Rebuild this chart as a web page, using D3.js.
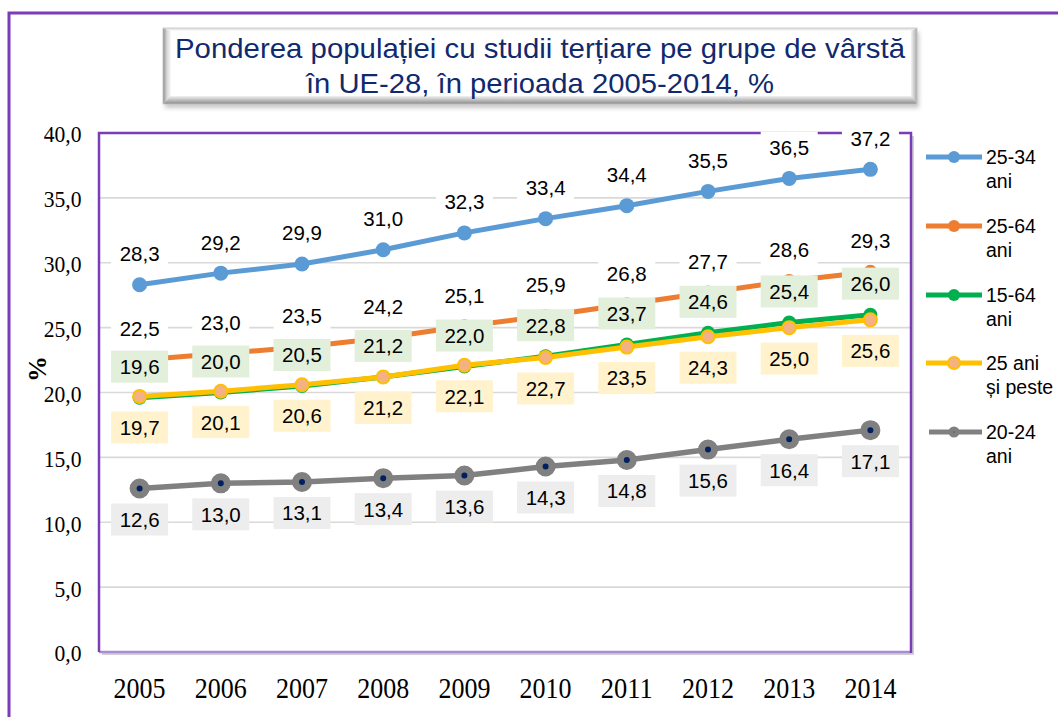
<!DOCTYPE html>
<html><head><meta charset="utf-8">
<script src="https://cdn.jsdelivr.net/npm/d3@7"></script>
<style>html,body{margin:0;padding:0;background:#fff;} svg{display:block;}</style>
</head><body><svg id="chart" width="1058" height="717"></svg>
<script>
// ---- data ----
const years = ["2005","2006","2007","2008","2009","2010","2011","2012","2013","2014"];
const v25_34 = [28.3, 29.2, 29.9, 31.0, 32.3, 33.4, 34.4, 35.5, 36.5, 37.2];
const v25_64 = [22.5, 23.0, 23.5, 24.2, 25.1, 25.9, 26.8, 27.7, 28.6, 29.3];
const v15_64 = [19.6, 20.0, 20.5, 21.2, 22.0, 22.8, 23.7, 24.6, 25.4, 26.0];
const v25plus = [19.7, 20.1, 20.6, 21.2, 22.1, 22.7, 23.5, 24.3, 25.0, 25.6];
const v20_24 = [12.6, 13.0, 13.1, 13.4, 13.6, 14.3, 14.8, 15.6, 16.4, 17.1];
const yTicks = [0, 5, 10, 15, 20, 25, 30, 35, 40];
const seriesNames = [["25-34","ani"],["25-64","ani"],["15-64","ani"],["25 ani","și peste"],["20-24","ani"]];
const titleLines = ["Ponderea populației cu studii terțiare pe grupe de vârstă","în UE-28, în perioada 2005-2014, %"];
const yTitle = "%";

// ---- styles ----
const styles = [
  {line:"#5b9bd5", lw:5, r:7.5, fill:"#5b9bd5", stroke:"none", sw:0, pos:-31, box:"#ffffff", lr:6},
  {line:"#ed7d31", lw:5, r:7, fill:"#ed7d31", stroke:"none", sw:0, pos:-31, box:"#ffffff", lr:6},
  {line:"#00b050", lw:5, r:7, fill:"#00b050", stroke:"none", sw:0, pos:-31, box:"#e2efda", lr:6},
  {line:"#ffc000", lw:5, r:6.5, fill:"#f4b183", stroke:"#ffc000", sw:2, pos:31, box:"#fff2cc", lr:6},
  {line:"#808080", lw:5.5, r:6.5, fill:"#002060", stroke:"#808080", sw:7, pos:31, box:"#ededed", lr:5.5}
];
const seriesValues = [v25_34, v25_64, v15_64, v25plus, v20_24];
const series = seriesValues.map((v,i)=>({values:v, name:seriesNames[i], st:styles[i]}));

const purple = "#7a3db6";
const svg = d3.select("#chart");
const W = 1058, H = 717;
const plot = {l:99, r:911, t:133, b:652};

const x = d3.scaleBand().domain(years).range([plot.l, plot.r]);
const y = d3.scaleLinear().domain([0,40]).range([plot.b, plot.t]);
const cx = d => x(d) + x.bandwidth()/2;
const fmt = v => d3.format(".1f")(v).replace(".", ",");

const defs = svg.append("defs");
function grad(id, x1,y1,x2,y2, stops){
  const g = defs.append("linearGradient").attr("id",id).attr("x1",x1).attr("y1",y1).attr("x2",x2).attr("y2",y2);
  stops.forEach(s=>g.append("stop").attr("offset",s[0]).attr("stop-color",s[1]));
}
grad("gl","0","0","1","0",[[0,"#8e8e8e"],[0.5,"#d8d8d8"],[1,"#fafafa"]]);
grad("gr","0","0","1","0",[[0,"#f4f4f4"],[1,"#a8a8a8"]]);
grad("gt","0","0","0","1",[[0,"#dcdcdc"],[1,"#fbfbfb"]]);
grad("gb","0","0","0","1",[[0,"#f2f2f2"],[0.6,"#b4b4b4"],[1,"#8a8a8a"]]);
defs.append("filter").attr("id","blur").append("feGaussianBlur").attr("stdDeviation",2);

svg.append("rect").attr("width",W).attr("height",H).attr("fill","#fff");
// outer frame
svg.append("rect").attr("x",9).attr("y",13).attr("width",1120).attr("height",760)
  .attr("fill","none").attr("stroke",purple).attr("stroke-width",3);

// ---- title box ----
const tb = {x:163, y:28, w:754, h:76};
svg.append("rect").attr("x",tb.x+2).attr("y",tb.y+4).attr("width",tb.w).attr("height",tb.h)
  .attr("fill","#c8c8c8").attr("filter","url(#blur)");
const ins = {l:8, t:3, r:6, b:8};
const X0=tb.x, Y0=tb.y, X1=tb.x+tb.w, Y1=tb.y+tb.h;
const iX0=X0+ins.l, iY0=Y0+ins.t, iX1=X1-ins.r, iY1=Y1-ins.b;
const poly = (pts, f) => svg.append("polygon").attr("points", pts.map(p=>p.join(",")).join(" ")).attr("fill", f);
poly([[X0,Y0],[X1,Y0],[iX1,iY0],[iX0,iY0]],"url(#gt)");
poly([[X0,Y1],[X1,Y1],[iX1,iY1],[iX0,iY1]],"url(#gb)");
poly([[X0,Y0],[iX0,iY0],[iX0,iY1],[X0,Y1]],"url(#gl)");
poly([[X1,Y0],[iX1,iY0],[iX1,iY1],[X1,Y1]],"url(#gr)");
svg.append("rect").attr("x",iX0).attr("y",iY0).attr("width",iX1-iX0).attr("height",iY1-iY0).attr("fill","#ffffff");
svg.append("rect").attr("x",X0).attr("y",Y0).attr("width",tb.w).attr("height",tb.h)
  .attr("fill","none").attr("stroke","#c4c4c4").attr("stroke-width",0.8);
const titleW = [730, 468];
svg.selectAll("text.title").data(titleLines).join("text").attr("class","title")
  .attr("x",540).attr("y",(d,i)=>58+i*35).attr("text-anchor","middle")
  .attr("font-family","'Liberation Sans', Arial, sans-serif").attr("font-size",28)
  .attr("fill","#0f2a6e")
  .attr("textLength",(d,i)=>titleW[i]).attr("lengthAdjust","spacingAndGlyphs")
  .text(d=>d);

// ---- plot area ----
svg.append("rect").attr("x",plot.l+3).attr("y",plot.t+3).attr("width",plot.r-plot.l).attr("height",plot.b-plot.t)
  .attr("fill","#d0d0d0");
svg.append("rect").attr("x",plot.l).attr("y",plot.t).attr("width",plot.r-plot.l).attr("height",plot.b-plot.t)
  .attr("fill","#ffffff");
// gridlines
svg.append("g").selectAll("line").data(yTicks.filter(t=>t>0 && t<40)).join("line")
  .attr("x1",plot.l).attr("x2",plot.r).attr("y1",d=>y(d)).attr("y2",d=>y(d))
  .attr("stroke","#d9d9d9").attr("stroke-width",1.6);
// borders
svg.append("line").attr("x1",plot.l).attr("x2",plot.r).attr("y1",plot.b).attr("y2",plot.b)
  .attr("stroke","#ab8ad6").attr("stroke-width",2.5);
svg.append("path").attr("d",`M${plot.l},${plot.b}V${plot.t}H${plot.r}V${plot.b+1}`)
  .attr("fill","none").attr("stroke",purple).attr("stroke-width",2.5);

// ---- axes ----
const yAxis = d3.axisLeft(y).tickValues(yTicks).tickFormat(fmt).tickSize(0).tickPadding(19);
const gy = svg.append("g").attr("transform",`translate(${plot.l},0)`).call(yAxis);
gy.select(".domain").remove();
gy.selectAll("text").attr("font-family","'Liberation Serif','Times New Roman',serif")
  .attr("font-size",23.5).attr("fill","#000")
  .attr("transform","scale(0.92,1)").attr("dy","0.38em");

const xAxis = d3.axisBottom(x).tickSize(0).tickPadding(25);
const gx = svg.append("g").attr("transform",`translate(0,${plot.b})`).call(xAxis);
gx.select(".domain").remove();
gx.selectAll(".tick text").attr("font-family","'Liberation Serif','Times New Roman',serif")
  .attr("font-size",29).attr("fill","#000").attr("textLength",52).attr("lengthAdjust","spacingAndGlyphs");

// y title with white background (overlaps the "20,0" tick label as in the original)
svg.append("rect").attr("x",29).attr("y",354).attr("width",18).attr("height",30).attr("fill","#fff");
svg.append("text").attr("transform","translate(46,369) rotate(-90)").attr("text-anchor","middle")
  .attr("font-family","'Liberation Serif','Times New Roman',serif").attr("font-weight","bold")
  .attr("font-size",26).attr("fill","#000").text(yTitle);

// ---- series ----
const lineGen = d3.line().x((d,i)=>cx(years[i])).y(d=>y(d));
const gS = svg.append("g");
series.forEach(s=>{
  const g = gS.append("g");
  g.append("path").datum(s.values).attr("d",lineGen).attr("fill","none")
    .attr("stroke",s.st.line).attr("stroke-width",s.st.lw).attr("stroke-linejoin","round");
  g.selectAll("circle").data(s.values).join("circle")
    .attr("cx",(d,i)=>cx(years[i])).attr("cy",d=>y(d)).attr("r",s.st.r)
    .attr("fill",s.st.fill).attr("stroke",s.st.stroke).attr("stroke-width",s.st.sw);
});

// ---- data labels ----
const gL = svg.append("g");
series.forEach(s=>{
  s.values.forEach((v,i)=>{
    const lx = cx(years[i]), ly = y(v) + s.st.pos;
    gL.append("rect").attr("x",lx-28.5).attr("y",ly-16).attr("width",57).attr("height",32).attr("fill",s.st.box);
    gL.append("text").attr("x",lx).attr("y",ly).attr("dy","0.36em").attr("text-anchor","middle")
      .attr("font-family","'Liberation Sans', Arial, sans-serif").attr("font-size",20.5).attr("fill","#000")
      .text(fmt(v));
  });
});

// ---- legend ----
const legY = [157, 226, 295, 363, 432];
const gLeg = svg.append("g");
series.forEach((s,i)=>{
  const ly = legY[i];
  const g = gLeg.append("g");
  g.append("line").attr("x1",i===4?929:926).attr("x2",982).attr("y1",ly).attr("y2",ly)
    .attr("stroke",s.st.line).attr("stroke-width",5);
  g.append("circle").attr("cx",954).attr("cy",ly).attr("r",s.st.lr - (s.st.sw>4?3:0))
    .attr("fill",s.st.fill).attr("stroke",s.st.stroke).attr("stroke-width",s.st.sw>4?6:s.st.sw);
  s.name.forEach((t,k)=>{
    g.append("text").attr("x",986).attr("y",ly+7+k*24)
      .attr("font-family","'Liberation Sans', Arial, sans-serif").attr("font-size",19.5).attr("fill","#000")
      .text(t);
  });
});
</script></body></html>
